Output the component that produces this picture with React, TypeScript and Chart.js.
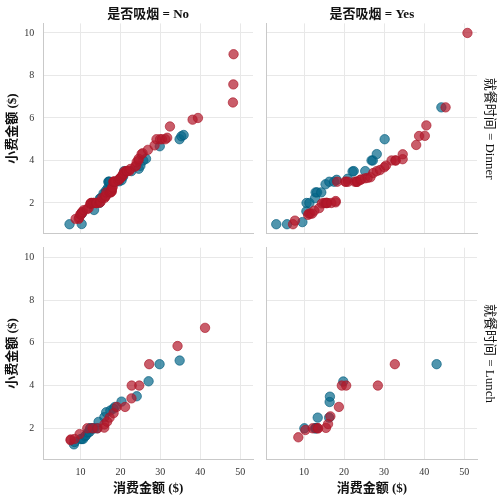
import React, { useEffect, useRef } from "react";
import { Chart, registerables } from "chart.js";

Chart.register(...registerables);

// ---------- text ----------
const colTitles = ["是否吸烟 = No", "是否吸烟 = Yes"];
const rowTitles = ["就餐时间 = Dinner", "就餐时间 = Lunch"];
const xLabel = "消费金额 ($)";
const yLabel = "小费金额 ($)";
const xTickValues = [10, 20, 30, 40, 50];
const yTickValues = [2, 4, 6, 8, 10];
const hueNames = ["Female", "Male"];

// ---------- data (sorted bill vs sorted tip, per facet and sex) ----------
// smoker = No, time = Dinner
const noDinnerFemaleBill = [7.25, 10.29, 10.33, 13.39, 14.73, 14.83, 15.06, 15.77, 16.21, 16.45, 16.93, 16.97, 16.99, 17.07, 17.31, 18.78, 19.65, 20.29, 20.69, 20.92, 22.75, 24.59, 25.0, 25.71, 26.41, 29.85, 34.81, 35.26, 35.83];
const noDinnerFemaleTip = [1.0, 1.01, 1.5, 1.67, 2.0, 2.2, 2.23, 2.45, 2.47, 2.6, 2.61, 2.75, 3.0, 3.0, 3.0, 3.0, 3.02, 3.07, 3.25, 3.5, 3.5, 3.61, 3.75, 4.0, 4.08, 4.67, 5.0, 5.14, 5.2];
const noDinnerMaleBill = [8.77, 9.55, 9.68, 9.94, 10.07, 10.27, 10.34, 10.51, 10.77, 11.61, 12.02, 12.46, 12.54, 12.66, 12.69, 13.13, 13.28, 13.37, 13.81, 13.94, 14.0, 14.07, 14.78, 15.04, 15.42, 16.04, 16.29, 16.31, 16.49, 17.26, 17.46, 17.59, 17.78, 17.81, 17.82, 17.92, 18.04, 18.24, 18.29, 18.35, 18.43, 18.69, 19.49, 19.77, 19.82, 20.08, 20.23, 20.45, 20.65, 20.69, 20.76, 21.01, 21.5, 21.58, 21.7, 22.23, 22.49, 23.68, 23.95, 24.06, 24.52, 24.55, 25.29, 25.56, 26.88, 28.55, 29.03, 29.93, 30.4, 31.27, 31.71, 32.4, 38.07, 39.42, 48.17, 48.27, 48.33];
const noDinnerMaleTip = [1.25, 1.25, 1.32, 1.45, 1.47, 1.5, 1.56, 1.57, 1.66, 1.71, 1.75, 1.96, 1.97, 2.0, 2.0, 2.0, 2.0, 2.0, 2.0, 2.0, 2.0, 2.0, 2.01, 2.05, 2.24, 2.24, 2.31, 2.34, 2.5, 2.5, 2.5, 2.5, 2.54, 2.55, 2.64, 2.72, 2.74, 3.0, 3.0, 3.0, 3.0, 3.0, 3.06, 3.12, 3.15, 3.18, 3.23, 3.27, 3.31, 3.35, 3.39, 3.48, 3.5, 3.5, 3.5, 3.51, 3.6, 3.71, 3.76, 3.92, 4.0, 4.08, 4.3, 4.34, 4.5, 4.71, 5.0, 5.0, 5.0, 5.0, 5.07, 5.6, 5.92, 6.0, 6.73, 7.58, 9.0];

// smoker = Yes, time = Dinner
const yesDinnerFemaleBill = [3.07, 5.75, 9.6, 10.59, 10.63, 11.35, 12.76, 12.9, 13.27, 14.31, 15.38, 16.32, 17.51, 18.15, 20.9, 22.12, 22.42, 25.28, 26.86, 27.18, 28.17, 30.14, 44.3];
const yesDinnerFemaleTip = [1.0, 1.0, 1.1, 1.61, 2.0, 2.0, 2.23, 2.5, 2.5, 2.5, 2.88, 3.0, 3.0, 3.09, 3.14, 3.48, 3.5, 3.5, 4.0, 4.0, 4.3, 5.0, 6.5];
const yesDinnerMaleBill = [7.25, 7.74, 11.02, 11.24, 11.59, 12.03, 12.6, 13.81, 14.48, 15.01, 15.36, 15.53, 15.69, 15.69, 15.81, 16.82, 17.89, 17.92, 18.29, 20.29, 20.49, 21.01, 22.67, 23.1, 23.17, 23.33, 24.01, 24.27, 25.21, 25.89, 26.59, 27.28, 28.15, 28.97, 30.06, 30.46, 31.85, 32.83, 32.9, 34.63, 34.65, 38.01, 38.73, 40.17, 40.55, 45.35, 50.81];
const yesDinnerMaleTip = [1.0, 1.17, 1.44, 1.5, 1.5, 1.5, 1.64, 1.76, 1.98, 2.0, 2.0, 2.0, 2.0, 2.0, 2.0, 2.0, 2.03, 2.09, 3.0, 3.0, 3.0, 3.0, 3.0, 3.0, 3.0, 3.0, 3.08, 3.11, 3.16, 3.18, 3.21, 3.41, 3.5, 3.55, 3.68, 3.76, 4.0, 4.0, 4.0, 4.06, 4.29, 4.73, 5.15, 5.16, 5.65, 6.5, 10.0];

// smoker = No, time = Lunch
const noLunchFemaleBill = [8.35, 8.51, 10.07, 10.33, 10.65, 11.17, 11.38, 11.87, 12.26, 12.43, 12.48, 13.16, 13.42, 14.15, 14.52, 15.98, 16.43, 17.47, 18.26, 18.64, 20.27, 24.08, 27.05, 29.8, 34.83];
const noLunchFemaleTip = [1.25, 1.36, 1.5, 1.5, 1.5, 1.63, 1.68, 1.8, 1.83, 2.0, 2.0, 2.0, 2.0, 2.0, 2.3, 2.52, 2.75, 2.83, 2.92, 3.0, 3.25, 3.5, 4.2, 5.0, 5.17];
const noLunchMaleBill = [7.51, 7.56, 8.52, 9.78, 11.69, 13.03, 14.26, 15.95, 15.98, 16.66, 17.29, 18.28, 19.08, 21.16, 22.76, 22.82, 24.71, 27.2, 34.3, 41.19];
const noLunchMaleTip = [1.44, 1.48, 1.5, 1.73, 2.0, 2.0, 2.0, 2.03, 2.18, 2.31, 2.5, 2.71, 3.0, 3.0, 3.4, 4.0, 4.0, 5.0, 5.85, 6.7];

// smoker = Yes, time = Lunch
const yesLunchFemaleBill = [10.09, 12.74, 13.0, 13.0, 13.42, 16.27, 16.4, 16.47, 19.81, 43.11];
const yesLunchFemaleTip = [2.0, 2.0, 2.0, 2.01, 2.5, 2.5, 3.23, 3.48, 4.19, 5.0];
const yesLunchMaleBill = [8.58, 10.34, 12.16, 13.42, 13.51, 15.48, 16.0, 16.58, 18.71, 19.44, 20.53, 28.44, 32.68];
const yesLunchMaleTip = [1.58, 1.92, 2.0, 2.0, 2.0, 2.02, 2.2, 2.56, 3.0, 4.0, 4.0, 4.0, 5.0];

// facets[row][col] = [[femaleBill, femaleTip], [maleBill, maleTip]]
const facets = [
  [
    [[noDinnerFemaleBill, noDinnerFemaleTip], [noDinnerMaleBill, noDinnerMaleTip]],
    [[yesDinnerFemaleBill, yesDinnerFemaleTip], [yesDinnerMaleBill, yesDinnerMaleTip]],
  ],
  [
    [[noLunchFemaleBill, noLunchFemaleTip], [noLunchMaleBill, noLunchMaleTip]],
    [[yesLunchFemaleBill, yesLunchFemaleTip], [yesLunchMaleBill, yesLunchMaleTip]],
  ],
];

// ---------- style / layout ----------
const W = 500;
const H = 501;
const X_MIN = 0.683;
const X_MAX = 53.197;
const Y_MIN = 0.55;
const Y_MAX = 10.45;
const COLS = [
  { left: 43.3, right: 253 },
  { left: 266.7, right: 477 },
];
const ROWS = [
  { top: 23.4, bottom: 233.8 },
  { top: 247.7, bottom: 459.3 },
];
const SERIF = "'Liberation Serif', 'Noto Sans CJK SC', serif";
const FILLS = ["rgba(6, 104, 138, 0.7)", "rgba(178, 24, 43, 0.7)"];
const EDGES = ["rgba(0, 92, 124, 0.8)", "rgba(170, 22, 40, 0.8)"];
// Female drawn underneath, Male on top
const ORDERS = [1, 0];
const GRID = "#e8e8e8";
const SPINE = "#c9c9c9";
const TICK = "#333333";
const TITLE = "#111111";

function buildConfig(r: number, c: number): any {
  const isTop = r === 0;
  const isBottom = r === 1;
  const isLeft = c === 0;
  const isRight = c === 1;
  const col = COLS[c];
  const row = ROWS[r];
  const facet = facets[r][c];

  const datasets = facet.map((pair: number[][], k: number) => ({
    label: hueNames[k],
    order: ORDERS[k],
    data: pair[0].map((b: number, i: number) => ({ x: b, y: pair[1][i] })),
    backgroundColor: FILLS[k],
    borderColor: EDGES[k],
    borderWidth: 0.8,
    pointRadius: 4.7,
    pointHoverRadius: 4.7,
  }));

  const scales: any = {
    x: {
      type: "linear",
      position: "bottom",
      min: X_MIN,
      max: X_MAX,
      afterBuildTicks: (s: any) => {
        s.ticks = xTickValues.map((v) => ({ value: v }));
      },
      grid: { color: GRID, lineWidth: 1, drawTicks: false },
      border: { color: SPINE, width: 1 },
      ticks: { display: isBottom, padding: 7, color: TICK, font: { size: 10, family: SERIF } },
      title: {
        display: isBottom,
        text: xLabel,
        color: TITLE,
        font: { size: 13, weight: "bold", family: SERIF },
        padding: { top: 0, bottom: 4.7 },
      },
      afterFit: (s: any) => {
        s.height = isBottom ? H - row.bottom : 0;
      },
    },
    y: {
      type: "linear",
      position: "left",
      min: Y_MIN,
      max: Y_MAX,
      afterBuildTicks: (s: any) => {
        s.ticks = yTickValues.map((v) => ({ value: v }));
      },
      grid: { color: GRID, lineWidth: 1, drawTicks: false },
      border: { color: SPINE, width: 1 },
      ticks: { display: isLeft, padding: 9, color: TICK, font: { size: 10, family: SERIF } },
      title: {
        display: isLeft,
        text: yLabel,
        color: TITLE,
        font: { size: 13, weight: "bold", family: SERIF },
        padding: { top: 5, bottom: 0 },
      },
      afterFit: (s: any) => {
        s.width = isLeft ? col.left : 0;
      },
    },
  };

  if (isTop) {
    scales.xTop = {
      type: "linear",
      position: "top",
      display: true,
      grid: { display: false, drawTicks: false },
      border: { display: false },
      ticks: { display: false },
      title: {
        display: true,
        text: colTitles[c],
        color: TITLE,
        font: { size: 13, weight: "bold", family: SERIF },
        padding: { top: 6.7, bottom: 0 },
      },
      afterFit: (s: any) => {
        s.height = row.top;
      },
    };
  }
  if (isRight) {
    scales.yRight = {
      type: "linear",
      position: "right",
      display: true,
      grid: { display: false, drawTicks: false },
      border: { display: false },
      ticks: { display: false },
      title: {
        display: true,
        text: rowTitles[r],
        color: TITLE,
        font: { size: 13, weight: "normal", family: SERIF },
        padding: { top: 3.2, bottom: 0 },
      },
      afterFit: (s: any) => {
        s.width = W - col.right;
      },
    };
  }

  return {
    type: "scatter",
    data: { datasets },
    options: {
      responsive: false,
      animation: false,
      devicePixelRatio: 1,
      events: [],
      layout: {
        padding: {
          left: isLeft ? 0 : col.left,
          right: isRight ? 0 : W - col.right,
          top: isTop ? 0 : row.top,
          bottom: isBottom ? 0 : H - row.bottom,
        },
      },
      plugins: {
        legend: { display: false },
        tooltip: { enabled: false },
        title: { display: false },
      },
      scales,
    },
  };
}

function Panel({ r, c }: { r: number; c: number }) {
  const ref = useRef<HTMLCanvasElement | null>(null);
  useEffect(() => {
    if (!ref.current) return;
    const chart = new Chart(ref.current, buildConfig(r, c));
    return () => chart.destroy();
  }, [r, c]);
  return (
    <canvas
      ref={ref}
      width={W}
      height={H}
      style={{ position: "absolute", left: 0, top: 0, width: W, height: H }}
    />
  );
}

export default function App() {
  return (
    <div
      style={{
        position: "absolute",
        left: 0,
        top: 0,
        width: W,
        height: H,
        background: "#ffffff",
        overflow: "hidden",
      }}
    >
      <Panel r={0} c={0} />
      <Panel r={0} c={1} />
      <Panel r={1} c={0} />
      <Panel r={1} c={1} />
    </div>
  );
}
